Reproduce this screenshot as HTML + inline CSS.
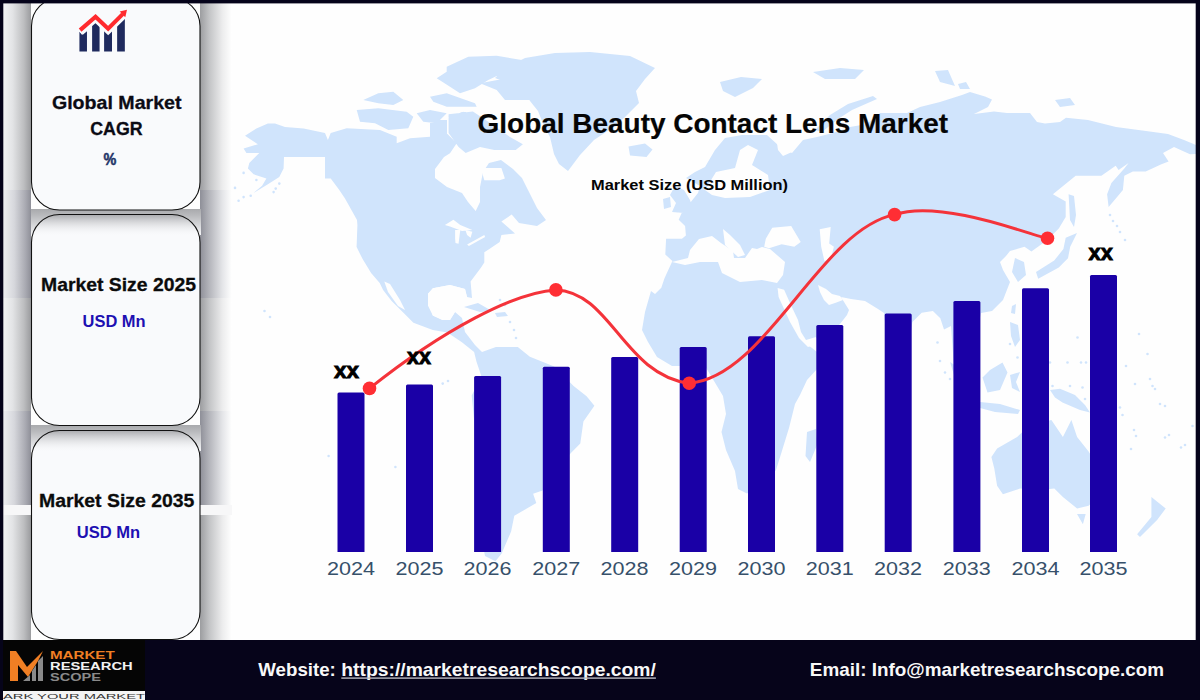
<!DOCTYPE html>
<html><head><meta charset="utf-8"><title>Global Beauty Contact Lens Market</title>
<style>html,body{margin:0;padding:0;background:#fff;width:1200px;height:700px;overflow:hidden;font-family:"Liberation Sans",sans-serif}svg{display:block}</style>
</head><body>
<svg width="1200" height="700" viewBox="0 0 1200 700" style="font-family:&quot;Liberation Sans&quot;, sans-serif"><defs>
<linearGradient id="gl" x1="0" x2="1" y1="0" y2="0">
 <stop offset="0" stop-color="#f4f5f6"/><stop offset="0.35" stop-color="#e2e3e5"/><stop offset="0.75" stop-color="#bcbdbf"/><stop offset="1" stop-color="#9a9b9e"/>
</linearGradient>
<linearGradient id="gr" x1="0" x2="1" y1="0" y2="0">
 <stop offset="0" stop-color="#9c9da0"/><stop offset="0.3" stop-color="#c4c5c7"/><stop offset="0.7" stop-color="#ececed"/><stop offset="1" stop-color="#ffffff"/>
</linearGradient>
<linearGradient id="gld" x1="0" x2="1" y1="0" y2="0">
 <stop offset="0" stop-color="#eeeff2"/><stop offset="0.4" stop-color="#d6d7dc"/><stop offset="0.8" stop-color="#a9aab2"/><stop offset="1" stop-color="#8e8f98"/>
</linearGradient>
<linearGradient id="grd" x1="0" x2="1" y1="0" y2="0">
 <stop offset="0" stop-color="#8e8f98"/><stop offset="0.3" stop-color="#b5b6bc"/><stop offset="0.7" stop-color="#e4e5e8"/><stop offset="1" stop-color="#ffffff"/>
</linearGradient>
<linearGradient id="gap" x1="0" x2="0" y1="0" y2="1">
 <stop offset="0" stop-color="#a6a7aa"/><stop offset="0.5" stop-color="#d8d9db"/><stop offset="1" stop-color="#f7f8fa"/>
</linearGradient>
</defs>
<rect x="0" y="0" width="1200" height="700" fill="#fefefe"/>
<g fill="#d0e4fc">
<path transform="translate(0.0,0.0) scale(1.00000)" d="M245,135.7 L256.4,128.6 L267.9,123.6 L275,123.6 L285,127.1 L303.6,128.6 L325,132.9 L327.9,140 L330.7,132.9 L346.7,128.3 L380,130 L396.7,136.7 L396.7,143.3 L410,138.3 L430,136.7 L438.3,130 L446.7,133.3 L456.7,143.3 L450,153.3 L444,157 L435,169 L435,178 L447,187 L462,193 L468,202 L475.7,211 L480,202 L480,187 L483,172 L489,163 L501,160 L513,169 L522,178 L528,190 L537,208 L546,220 L537,226 L519,223 L511.7,214.6 L501.4,221.4 L515,233.4 L501.4,235.1 L499.7,242 L489.4,248.9 L484.3,252.3 L484.3,262.6 L480.9,267.7 L470.6,281.4 L472,298 L467,297 L465,289 L450,284.9 L432.9,288.3 L428,293.7 L428,305.8 L432.8,315.5 L442.5,320 L450,320 L455,312 L462,318 L465,332 L475,345 L482,352 L495.9,347.1 L517.8,347.1 L529.9,356.8 L554.2,366.5 L573.6,385.9 L586.6,396.3 L594.4,405.7 L583.4,421.4 L580.3,443.4 L570.9,452.9 L556,470 L542.6,490.6 L533.1,493.7 L536.3,503.1 L514.3,515.7 L511.1,531.4 L501.7,553.4 L495.4,561.3 L485,556 L482,540 L480,500 L476,450 L474.1,420 L471.7,395.6 L476.5,385.9 L481.4,376.2 L476.5,361.7 L474.1,351.9 L461.9,342.2 L447.4,332.5 L432.8,330.1 L413.4,322.8 L403.7,313.1 L391.6,301 L383.1,290 L379.7,283.1 L371.1,272.9 L362.6,259.1 L356.6,247.1 L357.4,224.9 L357,220 L345,198.6 L339.3,190 L330.7,178.6 L325,178.6 L325,157.1 L284,157.1 L283.6,168.6 L279.3,177.1 L267.9,184.3 L253.6,192.9 L262.1,185.7 L266.4,178.6 L253.6,174.3 L247.9,168.6 L249.3,162.9 L259.3,152.9 L246.4,152.9 L243.6,148.6 L257.9,144.3 Z M495,78 L507,67 L525,58 L555,53 L590,52 L630,56 L655,68 L645,79 L636,91 L639,103 L624,118 L609,130 L594,140 L580,155 L568,171 L559,164 L554,154 L550,137 L544,126 L538,111 L530,101 L524,90 L510,84 Z M628.5,146.5 L645,143.5 L652.5,149.5 L646.5,157 L630,155.5 Z M675,186 L684,190 L690,200 L693,210 L684,213 L672,212 L676,203 L670,195 Z M663,199 L670,197 L671,207 L664,209 Z M464,307 L478,303 L492,311 L480,312 Z M495,313 L505,312 L508,316 L497,317 Z M725,138 L742,135 L767,135 L778,145 L792,153 L803,140 L817,137 L833,133 L850,127 L867,124 L880,113 L907,113 L920,107 L940,102 L962,95 L970,92 L985,96.5 L992,99.5 L988,107 L974,114 L994,111.5 L1007,113 L1030,113 L1037,122 L1045,123.5 L1060,122 L1066,117.7 L1088,120 L1116,127 L1146,131 L1168,134 L1184,140 L1196,145 L1196,154 L1190,154.3 L1174,147 L1163,153 L1168.6,161.4 L1161.4,164.3 L1145.7,171.4 L1132.9,171.4 L1124.3,175.7 L1122.9,190 L1117.1,197.1 L1108.6,207.1 L1107.1,194.3 L1111.4,182.9 L1124.3,168.6 L1128.6,162.9 L1118.6,170 L1115.7,165.7 L1101.4,175.7 L1075.7,175.7 L1052.9,194.3 L1065.7,201.4 L1065.7,217.1 L1058.8,228.5 L1047.4,240 L1031.4,251.4 L1024.5,246.8 L1010,251 L1006,256 L1000,262 L1003,270 L1010,282 L1003,300 L992,311 L981,313 L975,340 L968,370 L955,380 L951,326 L944,329.4 L940.3,318.3 L932.9,310.9 L921.7,312.7 L912.4,322 L905,370 L895,390 L887,340 L884,313 L878,309 L865,301 L851,299 L841,297 L849,310 L847,315 L840,324 L830,334 L816,338 L806,344 L812,348 L817,352 L818,368 L807,380 L800,395 L795,404 L789,428 L781,454 L776,470 L765,483 L747,493.5 L738,489 L735,471 L726,450 L721.5,432 L726,414 L723,396 L714,381 L705,366 L672,366 L657,357 L648,342 L642,330 L645,312 L651,291 L655,294 L661.3,287.8 L664.5,278.3 L672.4,260.9 L665.3,254.6 L666.1,238.8 L681.9,238.8 L685.9,235.6 L685.1,226.1 L678.7,219.8 L683,210 L690,203 L698,193 L700,186 L695,183 L686,178 L695,172 L705,167 L715,150 Z M807,432 L816,429 L817.5,444 L810,462 L805.5,456 Z M905,380 L910,382 L908,392 L903,390 Z M1065.7,237.7 L1077,233.1 L1070.2,246.8 L1068,258.2 L1058.8,267.4 L1038.2,278.8 L1036,272 L1054.2,260.5 L1063.4,249.1 Z M1068.6,194.3 L1074,196 L1076,215 L1074,227 L1070,220 Z M1015,258 L1024,262 L1026,275 L1018,282 L1012,272 Z M1012,306 L1016,304 L1015,314 L1011,313 Z M1010,322 L1018,325 L1020,340 L1015,347 L1011,336 Z M982.5,377.5 L990,370 L1002.5,362.5 L1007.5,372.5 L1000,390 L987.5,392.5 Z M950,362 L962,370 L978,392 L972,396 L955,378 Z M980,402 L1000,404 L1020,410 L1018,414 L995,412 L980,408 Z M1010,375 L1020,372 L1016,382 L1020,392 L1012,388 Z M1050,390 L1060,388.75 L1075,395 L1085,405 L1090,412.5 L1080,410 L1062.5,402.5 L1055,397.5 Z M991.4,457.1 L997.1,448.6 L1017.1,437.1 L1030,425 L1051.4,420 L1062.9,437.1 L1071.4,420 L1077.1,437.1 L1088.6,451.4 L1100,470 L1100,495 L1088.6,505.7 L1077.1,508.6 L1062.9,497.1 L1054.3,488.6 L1040,490 L1020,488.6 L1002.9,494.3 L997.1,485.7 L994.3,468.6 Z M1077,514 L1085.7,514 L1082.9,524.3 Z M1151.4,497.1 L1165.7,508.6 L1157.1,520 L1140,537.1 L1137.1,534.3 L1151.4,517.1 Z M720,82 L741,77 L762,79 L753,88 L735,97 L723,91 Z M813,72 L840,68 L864,70 L855,79 L825,79 Z M873,96 L877,99 L852,110 L838,119 L822,132 L815,130 L830,115 L848,104 Z M935,71 L948,70 L955,86 L940,82 Z M958,84 L966,82 L970,89 L960,89 Z M1055,100 L1070,98 L1075,105 L1060,107 Z M446.7,66.7 L468.3,56.7 L496.7,55.8 L521.7,60 L513.3,68.3 L488.3,80 L475,88.3 L460,93.3 L450,86.7 L436.7,78.3 L446.7,71.7 Z M480,83.3 L506.7,78.3 L530,75 L530,100 L505,100 L496.7,90 Z M430,96.7 L446.7,93.3 L475,103.3 L476.7,106.7 L446.7,106.7 L433.3,101.7 Z M356.7,110 L378.3,108.3 L406.7,111.7 L413.3,116.7 L408.3,128.3 L388.3,130 L375,123.3 L360,121.7 Z M416.7,113.3 L430,110 L446.7,113.3 L436.7,123.3 L423.3,121.7 Z M448.3,116.7 L463.3,111.7 L475,116.7 L471.7,128.3 L453.3,126.7 Z M363.3,100 L378.3,93.3 L393.3,91.7 L403.3,100 L393.3,105 L378.3,103.3 Z M448.6,114.3 L472.9,111.4 L494.3,125.7 L510,137.1 L522.9,144.3 L515.7,150 L494.3,150 L480,147.1 L465.7,152.9 L458.6,147.1 L448.6,132.9 Z M430,118 L447,120 L447,148 L436,150 L430,140 Z"/>
<circle cx="937.5" cy="342.5" r="1.3"/>
<circle cx="940" cy="361" r="1.3"/>
<circle cx="945" cy="372.5" r="1.3"/>
<circle cx="950" cy="379" r="1.3"/>
<circle cx="1010" cy="344" r="1.3"/>
<circle cx="1017.5" cy="357.5" r="1.3"/>
<circle cx="1050" cy="362.5" r="1.3"/>
<circle cx="1067.5" cy="362.5" r="1.3"/>
<circle cx="1077.5" cy="337.5" r="1.3"/>
<circle cx="1081" cy="362.5" r="1.3"/>
<circle cx="1086" cy="362.5" r="1.3"/>
<circle cx="1052.5" cy="386" r="1.3"/>
<circle cx="1070" cy="386" r="1.3"/>
<circle cx="1082.5" cy="387.5" r="1.3"/>
<circle cx="1085" cy="399" r="1.3"/>
<circle cx="1120" cy="407.5" r="1.3"/>
<circle cx="1122.5" cy="415" r="1.3"/>
<circle cx="1126" cy="366" r="1.3"/>
<circle cx="1135" cy="384" r="1.3"/>
<circle cx="1139" cy="334" r="1.3"/>
<circle cx="1147.5" cy="354" r="1.3"/>
<circle cx="1150" cy="379" r="1.3"/>
<circle cx="1152.5" cy="386" r="1.3"/>
<circle cx="1155" cy="389" r="1.3"/>
<circle cx="1160" cy="404" r="1.3"/>
<circle cx="1165" cy="406" r="1.3"/>
<circle cx="1134" cy="430" r="1.3"/>
<circle cx="1136" cy="436" r="1.3"/>
<circle cx="1165" cy="437.5" r="1.3"/>
<circle cx="1169" cy="435" r="1.3"/>
<circle cx="1181" cy="447.5" r="1.3"/>
<circle cx="1185" cy="445" r="1.3"/>
<circle cx="1131" cy="449" r="1.3"/>
<circle cx="1192.5" cy="426" r="1.3"/>
<circle cx="243.6" cy="172.9" r="1.3"/>
<circle cx="256.4" cy="180" r="1.3"/>
<circle cx="235" cy="187.9" r="1.3"/>
<circle cx="243.6" cy="197.1" r="1.3"/>
<circle cx="238.6" cy="200.7" r="1.3"/>
<circle cx="250.7" cy="195.7" r="1.3"/>
<circle cx="273.6" cy="192.1" r="1.3"/>
<circle cx="275.7" cy="188.6" r="1.3"/>
<circle cx="279.3" cy="183.6" r="1.3"/>
<circle cx="264.5" cy="311" r="1.3"/>
<circle cx="270" cy="317" r="1.3"/>
<circle cx="328.6" cy="456" r="1.3"/>
<circle cx="395.4" cy="467" r="1.3"/>
<circle cx="442.7" cy="383.6" r="1.3"/>
<circle cx="448" cy="381" r="1.3"/>
<circle cx="500" cy="300" r="1.3"/>
<circle cx="505" cy="305" r="1.3"/>
<circle cx="510" cy="322" r="1.3"/>
<circle cx="514" cy="330" r="1.3"/>
<circle cx="516" cy="338" r="1.3"/>
<circle cx="1110" cy="215" r="1.3"/>
<circle cx="1113" cy="221" r="1.3"/>
<circle cx="1117" cy="226" r="1.3"/>
<circle cx="1120" cy="232" r="1.3"/>
<circle cx="1125" cy="240" r="1.3"/>
</g>
<g fill="#fefefe">
<path d="M716,172 L735,168 L740,150 L748,145 L758,150 L752,165 L768,175 L770,190 L750,197 L725,198 L712,195 L705,190 Z"/>
<path d="M777,143 L791,142 L792,152 L783,156 L778,150 Z"/>
<path d="M672,262 L688,258 L690,250 L699,239 L712,236 L721,243 L733,251 L734,258 L745,258 L752,248 L757,249 L762,247 L770,249 L785,262 L783,275 L777,283 L762,280 L740,282 L722,273 L718,262 L700,262 L685,265 Z"/>
<path d="M723,229 L730,235 L740,245 L745,255 L738,257 L725,245 Z"/>
<path d="M765.8,238.8 L772.2,227.7 L791.2,226.1 L800.7,241.9 L794.3,246.7 L781.7,244.3 L769,248.2 L764.2,246.7 Z"/>
<path d="M819.7,229.3 L830.7,226.9 L829.2,243.5 L833.9,246.7 L830.7,259.3 L824.4,260.9 L821.2,246.7 Z"/>
<path d="M777.6,287.9 L784.1,289.7 L791.6,306.4 L798,320 L801,332 L806,340 L816,337 L816,344 L808,347 L799,338 L790,322 L778.6,297.1 Z"/>
<path d="M818,285 L826,289 L832,294 L840,296 L843,300 L835,303 L829,305 L824,300 L820,292 Z"/>
<path d="M428,293.7 L432.9,288.3 L450,284.9 L465,289 L467,297 L462,305 L455,312 L450,320 L442.5,320 L432.8,315.5 Z"/>
<path d="M384.3,281.6 L390,284 L400,300 L405,310 L398,306 L388,292 Z"/>
<path d="M444.9,224.9 L453.4,219.7 L460.3,224.9 L472.3,230 L462,231 L450,226.5 Z"/>
<path d="M455.1,230 L460.3,230 L458.5,243.7 L455.5,243 L455.1,238.6 Z"/>
<path d="M465.4,230 L472.3,231.7 L470.6,237.7 L467.1,235.1 Z"/>
<path d="M467.1,244.6 L484.3,235.1 L485.1,236.9 L468.9,245.9 Z"/>
<path d="M480.9,168 L501.4,168 L504.9,178.6 L499.7,180.3 L484.3,180.3 Z"/>
</g>

<rect x="3" y="0" width="28" height="640" fill="url(#gl)"/>
<rect x="200" y="0" width="32" height="640" fill="url(#gr)"/>
<rect x="3" y="190" width="28" height="108" fill="url(#gld)"/>
<rect x="200" y="190" width="32" height="108" fill="url(#grd)"/>
<rect x="3" y="411" width="28" height="94" fill="url(#gld)"/>
<rect x="200" y="411" width="32" height="94" fill="url(#grd)"/>
<rect x="3" y="505" width="28" height="10" fill="#f7f7f8"/>
<rect x="200" y="505" width="32" height="10" fill="#f7f7f8"/>
<linearGradient id="gap2" x1="0" x2="0" y1="0" y2="1"><stop offset="0" stop-color="#a9aaad"/><stop offset="0.25" stop-color="#b9babd"/><stop offset="1" stop-color="#f4f5f7"/></linearGradient>
<rect x="31" y="209" width="170" height="26" fill="url(#gap2)"/>
<rect x="31" y="425" width="170" height="26" fill="url(#gap2)"/>
<linearGradient id="topsh" x1="0" x2="0" y1="0" y2="1"><stop offset="0" stop-color="#9a9b9f" stop-opacity="0.85"/><stop offset="0.45" stop-color="#c8c9cc" stop-opacity="0.5"/><stop offset="1" stop-color="#f9fafc" stop-opacity="0"/></linearGradient>
<clipPath id="cc0"><rect x="31.5" y="-2" width="168.5" height="212" rx="28" ry="28"/></clipPath>
<rect x="31.5" y="-2" width="168.5" height="212" rx="28" ry="28" fill="#f9fafc"/>
<rect x="31.5" y="-2" width="168.5" height="212" rx="28" ry="28" fill="none" stroke="#111" stroke-width="1.1"/>
<clipPath id="cc1"><rect x="31.5" y="214.5" width="168.5" height="211.0" rx="28" ry="28"/></clipPath>
<rect x="31.5" y="214.5" width="168.5" height="211.0" rx="28" ry="28" fill="#f9fafc"/>
<rect x="31.5" y="214.5" width="168.5" height="22" fill="url(#topsh)" clip-path="url(#cc1)"/>
<rect x="31.5" y="214.5" width="168.5" height="211.0" rx="28" ry="28" fill="none" stroke="#111" stroke-width="1.1"/>
<clipPath id="cc2"><rect x="31.5" y="430.5" width="168.5" height="209.0" rx="28" ry="28"/></clipPath>
<rect x="31.5" y="430.5" width="168.5" height="209.0" rx="28" ry="28" fill="#f9fafc"/>
<rect x="31.5" y="430.5" width="168.5" height="22" fill="url(#topsh)" clip-path="url(#cc2)"/>
<rect x="31.5" y="430.5" width="168.5" height="209.0" rx="28" ry="28" fill="none" stroke="#111" stroke-width="1.1"/>
<g transform="translate(70,0) scale(0.0857)">
<path d="M110 370 L150 405 L198 365 L198 600 L110 600 Z" fill="#1f2a5e"/>
<path d="M258 290 L300 250 L345 292 L345 600 L258 600 Z" fill="#1f2a5e"/>
<path d="M398 360 L445 380 L490 355 L490 600 L398 600 Z" fill="#1f2a5e"/>
<path d="M550 260 L640 200 L640 600 L550 600 Z" fill="#1f2a5e"/>
<polyline points="110,370 298,210 445,350 625,175" fill="none" stroke="#fafbfd" stroke-width="90" stroke-linejoin="miter"/>
<polyline points="118,352 298,195 445,335 615,165" fill="none" stroke="#ff2a2e" stroke-width="48" stroke-linejoin="miter"/>
<path d="M665 115 L580 135 L645 200 Z" fill="#ff2a2e"/>
</g>
<text x="51.9" y="108.6" font-size="19" font-weight="bold" fill="#0b0b14" text-anchor="start" textLength="129.6" lengthAdjust="spacingAndGlyphs" stroke="#0b0b14" stroke-width="0.3">Global Market</text>
<text x="90.2" y="135.0" font-size="19" font-weight="bold" fill="#0b0b14" text-anchor="start" textLength="52.4" lengthAdjust="spacingAndGlyphs" stroke="#0b0b14" stroke-width="0.3">CAGR</text>
<text x="103.6" y="165.0" font-size="16" font-weight="bold" fill="#1f3468" text-anchor="start" textLength="12.8" lengthAdjust="spacingAndGlyphs" stroke="#1f3468" stroke-width="0.5">%</text>
<text x="41.0" y="290.9" font-size="19" font-weight="bold" fill="#0b0b0b" text-anchor="start" textLength="155.0" lengthAdjust="spacingAndGlyphs" stroke="#0b0b0b" stroke-width="0.3">Market Size 2025</text>
<text x="82.6" y="326.5" font-size="16" font-weight="bold" fill="#1d10b2" text-anchor="start" textLength="63.0" lengthAdjust="spacingAndGlyphs">USD Mn</text>
<text x="39.0" y="506.8" font-size="19" font-weight="bold" fill="#0b0b0b" text-anchor="start" textLength="155.4" lengthAdjust="spacingAndGlyphs" stroke="#0b0b0b" stroke-width="0.3">Market Size 2035</text>
<text x="76.8" y="537.8" font-size="16" font-weight="bold" fill="#1d10b2" text-anchor="start" textLength="63.4" lengthAdjust="spacingAndGlyphs">USD Mn</text>
<text x="477.6" y="132.7" font-size="28" font-weight="bold" fill="#050505" text-anchor="start" textLength="470.5" lengthAdjust="spacingAndGlyphs" stroke="#050505" stroke-width="0.2">Global Beauty Contact Lens Market</text>
<text x="591.0" y="189.6" font-size="15" font-weight="bold" fill="#050505" text-anchor="start" textLength="197.0" lengthAdjust="spacingAndGlyphs">Market Size (USD Million)</text>
<path d="M337.5,552 L337.5,394.0 Q337.5,392.5 339.0,392.5 L363.0,392.5 Q364.5,392.5 364.5,394.0 L364.5,552 Z" fill="#1a00a6"/>
<text x="326.9" y="575.0" font-size="18.5" font-weight="normal" fill="#36506a" text-anchor="start" textLength="48.0" lengthAdjust="spacingAndGlyphs">2024</text>
<path d="M406.0,552 L406.0,386.0 Q406.0,384.5 407.5,384.5 L431.5,384.5 Q433.0,384.5 433.0,386.0 L433.0,552 Z" fill="#1a00a6"/>
<text x="395.4" y="575.0" font-size="18.5" font-weight="normal" fill="#36506a" text-anchor="start" textLength="48.0" lengthAdjust="spacingAndGlyphs">2025</text>
<path d="M474.1,552 L474.1,377.4 Q474.1,375.9 475.6,375.9 L499.6,375.9 Q501.1,375.9 501.1,377.4 L501.1,552 Z" fill="#1a00a6"/>
<text x="463.5" y="575.0" font-size="18.5" font-weight="normal" fill="#36506a" text-anchor="start" textLength="48.0" lengthAdjust="spacingAndGlyphs">2026</text>
<path d="M542.8,552 L542.8,368.3 Q542.8,366.8 544.3,366.8 L568.3,366.8 Q569.8,366.8 569.8,368.3 L569.8,552 Z" fill="#1a00a6"/>
<text x="532.2" y="575.0" font-size="18.5" font-weight="normal" fill="#36506a" text-anchor="start" textLength="48.0" lengthAdjust="spacingAndGlyphs">2027</text>
<path d="M611.2,552 L611.2,358.5 Q611.2,357.0 612.7,357.0 L636.7,357.0 Q638.2,357.0 638.2,358.5 L638.2,552 Z" fill="#1a00a6"/>
<text x="600.6" y="575.0" font-size="18.5" font-weight="normal" fill="#36506a" text-anchor="start" textLength="48.0" lengthAdjust="spacingAndGlyphs">2028</text>
<path d="M679.7,552 L679.7,348.4 Q679.7,346.9 681.2,346.9 L705.2,346.9 Q706.7,346.9 706.7,348.4 L706.7,552 Z" fill="#1a00a6"/>
<text x="669.1" y="575.0" font-size="18.5" font-weight="normal" fill="#36506a" text-anchor="start" textLength="48.0" lengthAdjust="spacingAndGlyphs">2029</text>
<path d="M748.0,552 L748.0,337.8 Q748.0,336.3 749.5,336.3 L773.5,336.3 Q775.0,336.3 775.0,337.8 L775.0,552 Z" fill="#1a00a6"/>
<text x="737.4" y="575.0" font-size="18.5" font-weight="normal" fill="#36506a" text-anchor="start" textLength="48.0" lengthAdjust="spacingAndGlyphs">2030</text>
<path d="M816.3,552 L816.3,326.5 Q816.3,325.0 817.8,325.0 L841.8,325.0 Q843.3,325.0 843.3,326.5 L843.3,552 Z" fill="#1a00a6"/>
<text x="805.7" y="575.0" font-size="18.5" font-weight="normal" fill="#36506a" text-anchor="start" textLength="48.0" lengthAdjust="spacingAndGlyphs">2031</text>
<path d="M884.7,552 L884.7,315.1 Q884.7,313.6 886.2,313.6 L910.2,313.6 Q911.7,313.6 911.7,315.1 L911.7,552 Z" fill="#1a00a6"/>
<text x="874.1" y="575.0" font-size="18.5" font-weight="normal" fill="#36506a" text-anchor="start" textLength="48.0" lengthAdjust="spacingAndGlyphs">2032</text>
<path d="M953.4,552 L953.4,302.5 Q953.4,301.0 954.9,301.0 L978.9,301.0 Q980.4,301.0 980.4,302.5 L980.4,552 Z" fill="#1a00a6"/>
<text x="942.8" y="575.0" font-size="18.5" font-weight="normal" fill="#36506a" text-anchor="start" textLength="48.0" lengthAdjust="spacingAndGlyphs">2033</text>
<path d="M1022.0,552 L1022.0,289.8 Q1022.0,288.3 1023.5,288.3 L1047.5,288.3 Q1049.0,288.3 1049.0,289.8 L1049.0,552 Z" fill="#1a00a6"/>
<text x="1011.4" y="575.0" font-size="18.5" font-weight="normal" fill="#36506a" text-anchor="start" textLength="48.0" lengthAdjust="spacingAndGlyphs">2034</text>
<path d="M1090.0,552 L1090.0,276.4 Q1090.0,274.9 1091.5,274.9 L1115.5,274.9 Q1117.0,274.9 1117.0,276.4 L1117.0,552 Z" fill="#1a00a6"/>
<text x="1079.4" y="575.0" font-size="18.5" font-weight="normal" fill="#36506a" text-anchor="start" textLength="48.0" lengthAdjust="spacingAndGlyphs">2035</text>
<path d="M369.5,388.4 C443.0,329.9 514.4,292.3 555.9,289.9 C610.7,291.7 623.8,374.7 689.2,383.3 C766.0,377.4 819.8,229.7 894.6,214.6 C944.7,198.0 1044.2,240.5 1047.5,238.2" fill="none" stroke="#f4333a" stroke-width="3"/>
<circle cx="369.5" cy="388.4" r="6.8" fill="#ff2e34"/>
<circle cx="555.9" cy="289.9" r="6.8" fill="#ff2e34"/>
<circle cx="689.2" cy="383.3" r="6.8" fill="#ff2e34"/>
<circle cx="894.6" cy="214.6" r="6.8" fill="#ff2e34"/>
<circle cx="1047.5" cy="238.2" r="6.8" fill="#ff2e34"/>
<text x="334.0" y="378.0" font-size="22" font-weight="bold" fill="#000" text-anchor="start" textLength="25.0" lengthAdjust="spacingAndGlyphs" stroke="#000" stroke-width="0.9">xx</text>
<text x="407.0" y="364.0" font-size="22" font-weight="bold" fill="#000" text-anchor="start" textLength="24.0" lengthAdjust="spacingAndGlyphs" stroke="#000" stroke-width="0.9">xx</text>
<text x="1088.6" y="260.0" font-size="22" font-weight="bold" fill="#000" text-anchor="start" textLength="24.3" lengthAdjust="spacingAndGlyphs" stroke="#000" stroke-width="0.9">xx</text>
<rect x="0" y="0" width="1200" height="3.4" fill="#05031a"/>
<rect x="0" y="0" width="3.3" height="700" fill="#05031a"/>
<rect x="1195.7" y="0" width="4.3" height="700" fill="#05031a"/>
<rect x="0" y="640" width="1200" height="60" fill="#06041a"/>
<rect x="3" y="640" width="142" height="51" fill="#050505"/>
<rect x="3" y="691" width="142" height="9" fill="#f4f4f4"/>
<text x="3.0" y="699.0" font-size="7" font-weight="normal" fill="#333" text-anchor="start" textLength="142.0" lengthAdjust="spacingAndGlyphs">ARK YOUR MARKET</text>
<g transform="translate(10,651)">
<path d="M0 0 L6 0 L17 16 L33 0 L28 10 L18 26 L8 14 L8 30 L0 30 Z" fill="#f07f24"/>
<path d="M13 30 L20 24 L20 30 Z M22 30 L22 20 L26 14 L26 30 Z M28 30 L28 10 L33 5 L33 30 Z" fill="#8a8a8a"/>
</g>
<text x="50.0" y="659.0" font-size="10.5" font-weight="bold" fill="#f07f24" text-anchor="start" textLength="64.7" lengthAdjust="spacingAndGlyphs">MARKET</text>
<text x="50.0" y="670.0" font-size="10.5" font-weight="bold" fill="#f2f2f2" text-anchor="start" textLength="82.7" lengthAdjust="spacingAndGlyphs">RESEARCH</text>
<text x="50.0" y="681.0" font-size="10.5" font-weight="bold" fill="#8a8a8a" text-anchor="start" textLength="51.0" lengthAdjust="spacingAndGlyphs">SCOPE</text>
<text x="258.3" y="675.8" font-size="18.5" font-weight="bold" fill="#f8f8f8" text-anchor="start" textLength="77.5" lengthAdjust="spacingAndGlyphs">Website:</text>
<text x="341.3" y="675.8" font-size="18.5" font-weight="bold" fill="#f8f8f8" text-anchor="start" textLength="314.6" lengthAdjust="spacingAndGlyphs">https://marketresearchscope.com/</text>
<rect x="341.3" y="677.4" width="314.6" height="1.4" fill="#b8b8c0"/>
<text x="809.8" y="676.0" font-size="18.5" font-weight="bold" fill="#f8f8f8" text-anchor="start" textLength="354.3" lengthAdjust="spacingAndGlyphs">Email: Info@marketresearchscope.com</text></svg>
</body></html>
